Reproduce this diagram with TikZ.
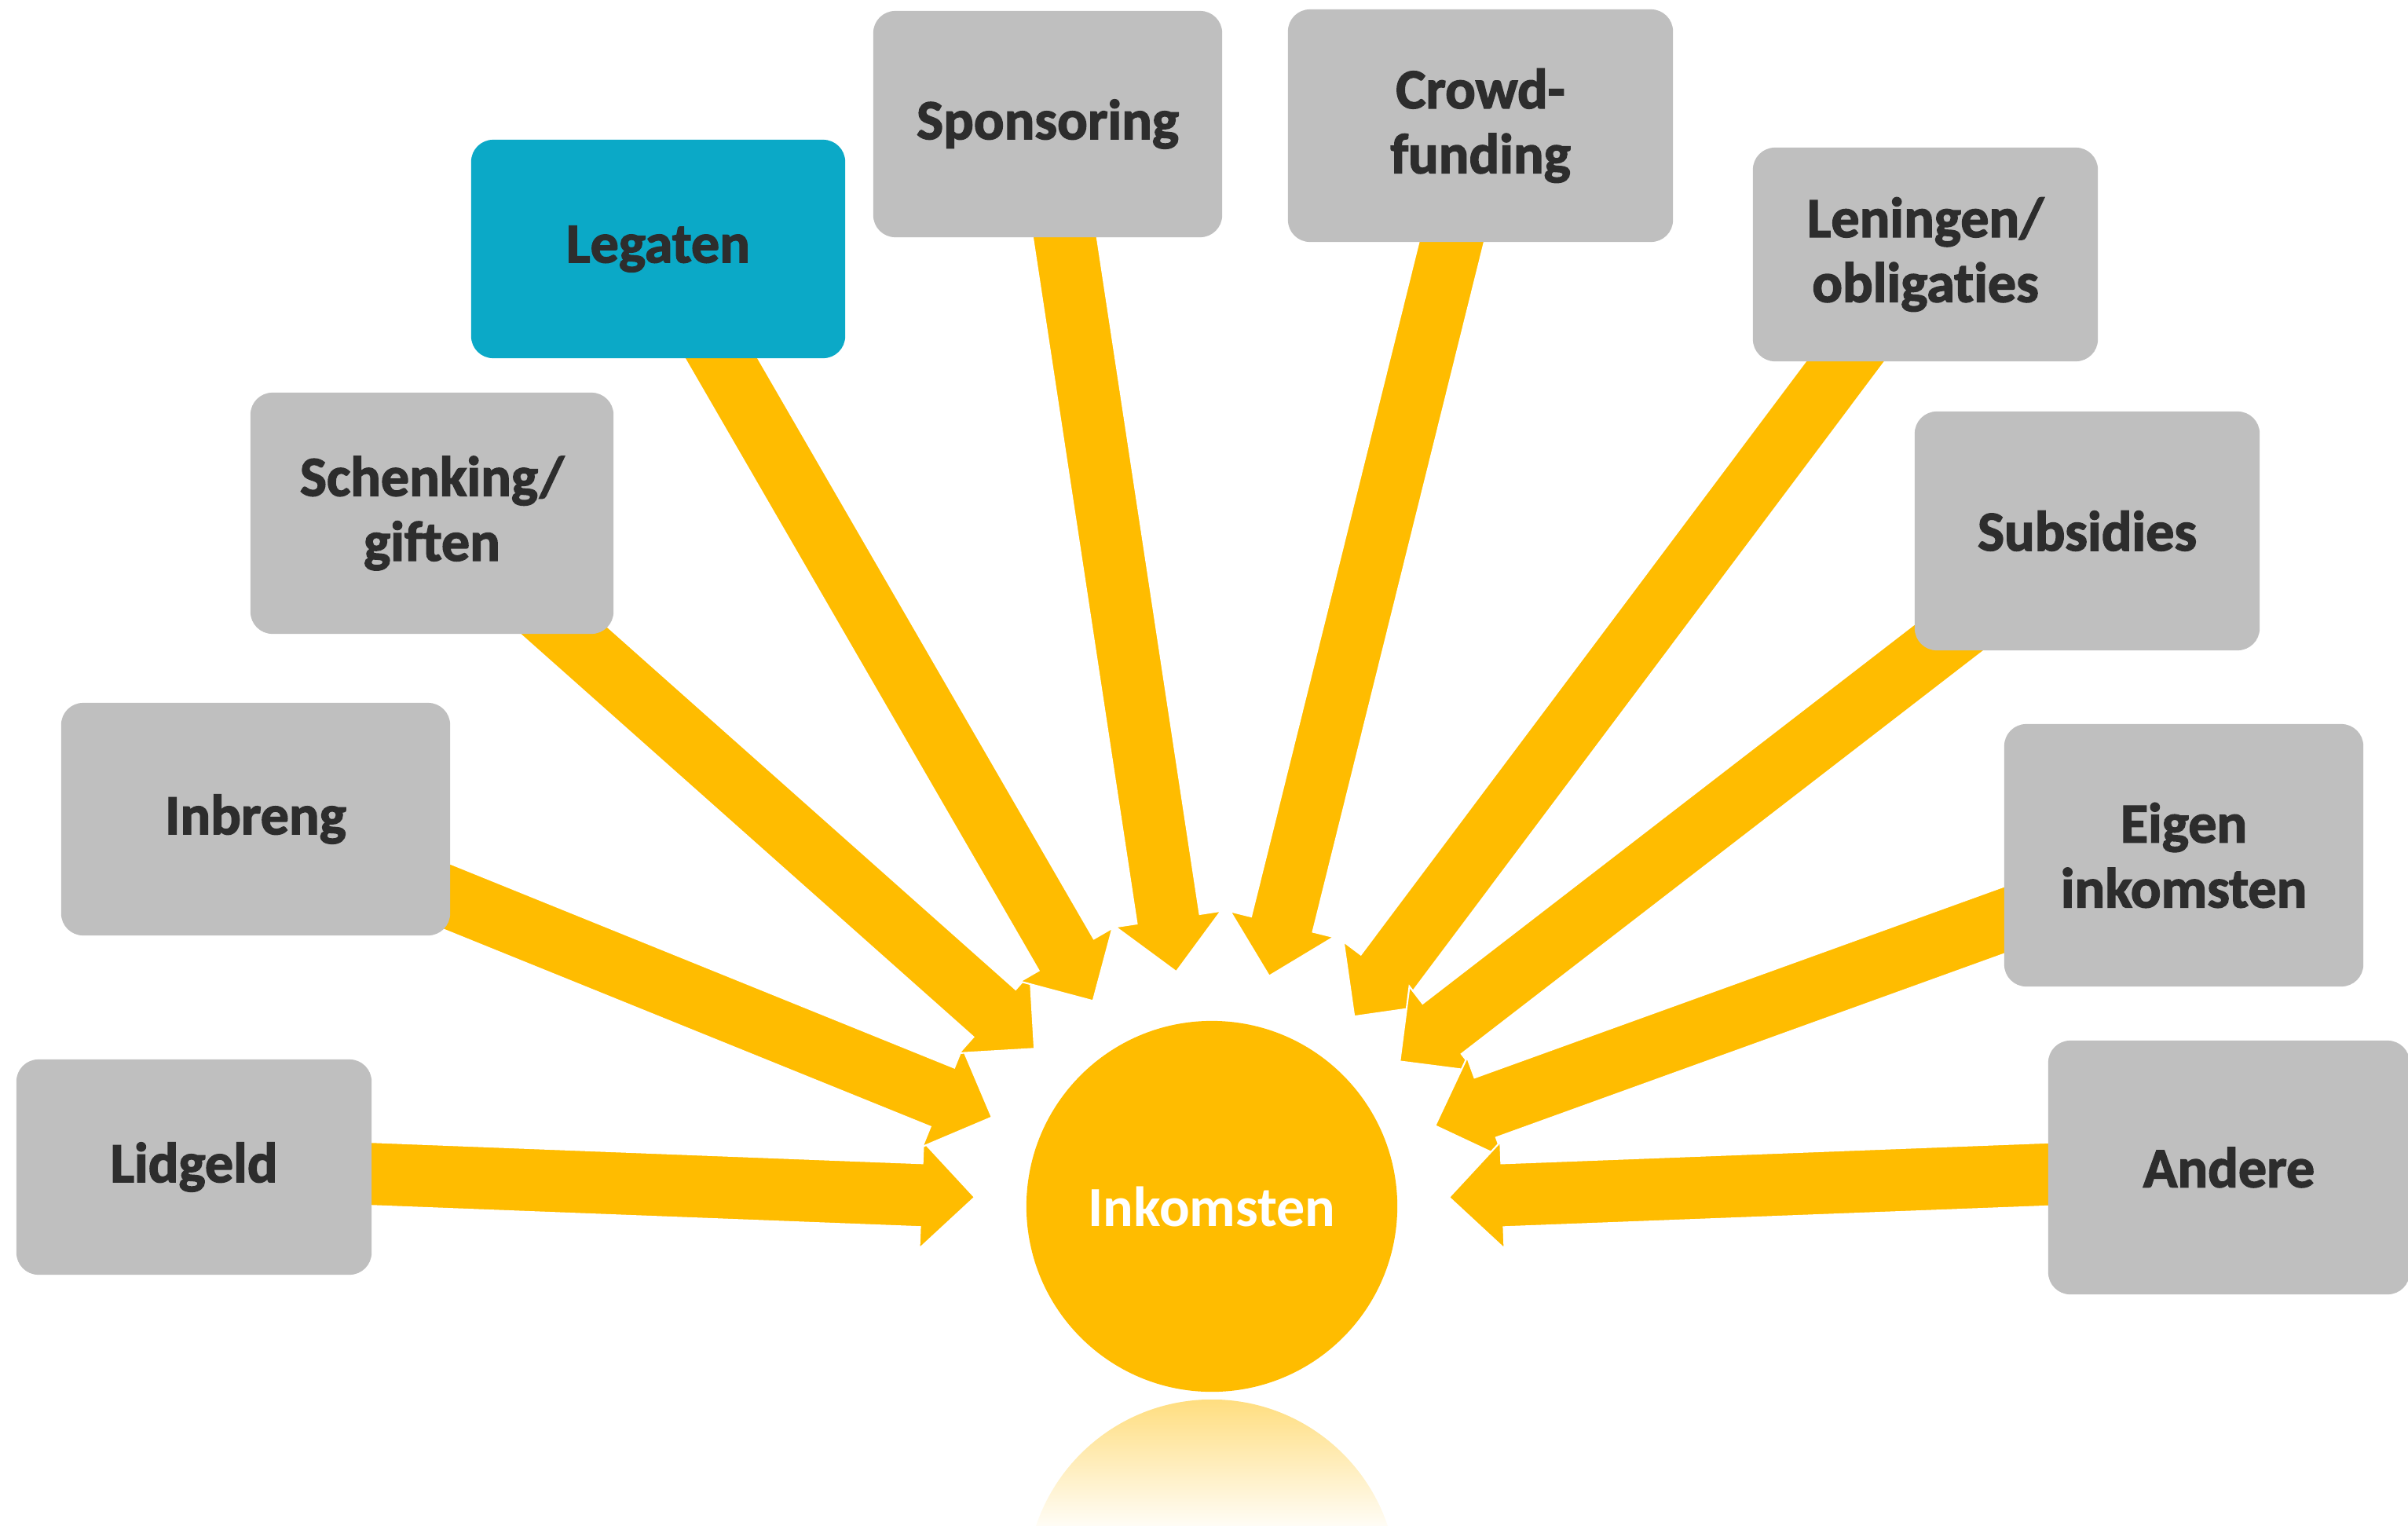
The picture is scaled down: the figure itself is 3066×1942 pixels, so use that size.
\documentclass[tikz,border=0pt]{standalone}
\usepackage{fontspec}
\setmainfont{Carlito}[Ligatures={NoCommon}]
\newfontfamily\labelfont{Carlito Bold}[Ligatures={NoCommon}, FakeBold=2]
\usetikzlibrary{calc,backgrounds}
\definecolor{boxgray}{HTML}{BFBFBF}
\definecolor{legteal}{HTML}{0BA9C7}
\definecolor{sunny}{HTML}{FFBC00}
\definecolor{txtgray}{HTML}{2D2D2D}
\tikzset{
  srcbox/.style={rectangle, rounded corners=0.28cm, fill=boxgray, text=txtgray,
    font=\fontsize{20.5}{23.5}\selectfont\labelfont, align=center, inner sep=0pt},
  hubnode/.style={circle, fill=sunny, text=white, minimum size=4.72cm, inner sep=0pt,
    font=\fontsize{20.5}{23.5}\selectfont\bfseries},
  arrowshape/.style={fill=sunny, draw=white, line width=0.6pt, line join=miter},
}
\newcommand\incomearrow[1]{%
  \coordinate (#1-t) at ($(hub.center)!3.02cm!(#1.center)$);
  \coordinate (#1-b) at ($(hub.center)!3.70cm!(#1.center)$);
  \filldraw[arrowshape]
    ($(#1.center)!0.405cm!90:(hub.center)$) --
    ($(#1-b)!0.405cm!90:(hub.center)$) --
    ($(#1-b)!0.68cm!90:(hub.center)$) --
    (#1-t) --
    ($(#1-b)!0.68cm!-90:(hub.center)$) --
    ($(#1-b)!0.405cm!-90:(hub.center)$) --
    ($(#1.center)!0.405cm!-90:(hub.center)$) -- cycle;
}
\begin{document}
\begin{tikzpicture}[x=0.01cm, y=-0.01cm]
\useasboundingbox (0,0) rectangle (3066,1942);

% reflection
\begin{scope}
  \clip (0,0) rectangle (3066,1942);
  \clip (1543,2018) circle[radius=2.36cm];
  \shade[top color=sunny!50!white, bottom color=sunny!4!white] (1290,1782) rectangle (1800,1942);
\end{scope}

\node[hubnode] (hub) at (1543,1536) {Inkomsten};

\node[srcbox, minimum width=4.52cm, minimum height=2.74cm] (lidgeld) at (247,1486) {Lidgeld};
\node[srcbox, minimum width=4.95cm, minimum height=2.96cm] (inbreng) at (325.5,1043) {Inbreng};
\node[srcbox, minimum width=4.62cm, minimum height=3.07cm] (schenking) at (550,653.5) {Schenking/\\giften};
\node[srcbox, fill=legteal, minimum width=4.76cm, minimum height=2.78cm] (legaten) at (838,317) {Legaten};
\node[srcbox, minimum width=4.44cm, minimum height=2.88cm] (sponsoring) at (1334,158) {Sponsoring};
\node[srcbox, minimum width=4.90cm, minimum height=2.96cm] (crowd) at (1885,160) {Crowd-\\funding};
\node[srcbox, minimum width=4.39cm, minimum height=2.72cm] (leningen) at (2451.5,324) {Leningen/\\obligaties};
\node[srcbox, minimum width=4.39cm, minimum height=3.04cm] (subsidies) at (2657.5,676) {Subsidies};
\node[srcbox, minimum width=4.57cm, minimum height=3.34cm] (eigen) at (2780.5,1089) {Eigen\\inkomsten};
\node[srcbox, minimum width=4.60cm, minimum height=3.23cm] (andere) at (2838,1486.5) {Andere};

\begin{scope}[on background layer]
  \incomearrow{lidgeld}
  \incomearrow{inbreng}
  \incomearrow{schenking}
  \incomearrow{legaten}
  \incomearrow{sponsoring}
  \incomearrow{crowd}
  \incomearrow{leningen}
  \incomearrow{subsidies}
  \incomearrow{eigen}
  \incomearrow{andere}
\end{scope}
\end{tikzpicture}
\end{document}
